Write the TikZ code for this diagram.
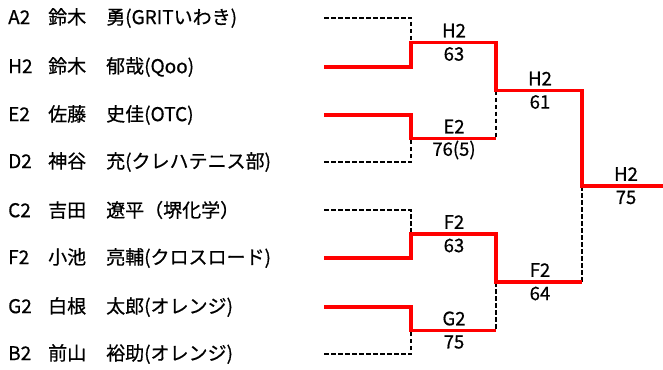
\documentclass[tikz,border=0pt]{standalone}
\usepackage{fontspec}
\setmainfont{Noto Sans CJK JP}
\newfontfamily\jpfont[FakeBold=0.6]{Noto Sans CJK JP}
\begin{document}
\begin{tikzpicture}[x=1pt,y=-1pt,
  win/.style={draw=red,line width=3.6pt,line join=miter},
  lose/.style={draw=black,line width=2.7pt,dash pattern=on 4.5pt off 2.5pt},
  player/.style={anchor=west,inner sep=0pt,font=\jpfont\fontsize{19}{22}\selectfont},
  lbl/.style={inner sep=0pt,font=\jpfont\fontsize{18.5}{20}\selectfont}]
\useasboundingbox (0,0) rectangle (663,369);
% players
\newcommand{\pl}[3]{\makebox[40pt][l]{#1}\makebox[58pt][l]{#2}#3}
\node[player] (pA) at (8,18)  {\pl{A2}{鈴木}{勇(GRITいわき)}};
\node[player] (pH) at (8,67)  {\pl{H2}{鈴木}{郁哉(Qoo)}};
\node[player] (pE) at (8,115) {\pl{E2}{佐藤}{史佳(OTC)}};
\node[player] (pD) at (8,162) {\pl{D2}{神谷}{充(クレハテニス部)}};
\node[player] (pC) at (8,210) {\pl{C2}{吉田}{遼平（堺化学）}};
\node[player] (pF) at (8,258) {\pl{F2}{小池}{亮輔(クロスロード)}};
\node[player] (pG) at (8,307) {\pl{G2}{白根}{太郎(オレンジ)}};
\node[player] (pB) at (8,354) {\pl{B2}{前山}{裕助(オレンジ)}};
% leaf coordinates
\coordinate (lA) at (324,18);
\coordinate (lH) at (324,67);
\coordinate (lE) at (324,115);
\coordinate (lD) at (324,162);
\coordinate (lC) at (324,210);
\coordinate (lF) at (324,258);
\coordinate (lG) at (324,307);
\coordinate (lB) at (324,354);
% round 1 corners
\coordinate (cA) at (411,18);
\coordinate (cH) at (411,67);
\coordinate (cE) at (411,115);
\coordinate (cD) at (411,162);
\coordinate (cC) at (411,210);
\coordinate (cF) at (411,258);
\coordinate (cG) at (411,307);
\coordinate (cB) at (411,354);
\coordinate (m1) at (411,42.5);
\coordinate (m2) at (411,138.5);
\coordinate (m3) at (411,234);
\coordinate (m4) at (411,330.5);
\coordinate (n1) at (496,42.5);
\coordinate (n2) at (496,138.5);
\coordinate (n3) at (496,234);
\coordinate (n4) at (496,330.5);
\coordinate (q1) at (496,90.5);
\coordinate (q2) at (496,282);
\coordinate (s1) at (582,90.5);
\coordinate (s2) at (582,282);
\coordinate (f) at (582,186);
\coordinate (fe) at (663,186);
% losers (dashed)
\draw[lose] (lA) -- (cA) -- (m1);
\draw[lose] (lD) -- (cD) -- (m2);
\draw[lose] (lC) -- (cC) -- (m3);
\draw[lose] (lB) -- (cB) -- (m4);
\draw[lose] (q1) -- (n2);
\draw[lose] (q2) -- (n4);
\draw[lose] (f) -- (s2);
% winners (red)
\draw[win] (lH) -- (cH) -- (m1) -- (n1) -- (q1) -- (s1) -- (f) -- (fe);
\draw[win] (lE) -- (cE) -- (m2) -- (n2);
\draw[win] (lF) -- (cF) -- (m3) -- (n3) -- (q2) -- (s2);
\draw[win] (lG) -- (cG) -- (m4) -- (n4);
% labels
\node[lbl] (w1) at (454,30.5) {H2};
\node[lbl] (s1l) at (454,54) {63};
\node[lbl] (w2) at (454,126.5) {E2};
\node[lbl] (s2l) at (454,150) {76(5)};
\node[lbl] (w3) at (454,222) {F2};
\node[lbl] (s3l) at (454,245.5) {63};
\node[lbl] (w4) at (454,318.5) {G2};
\node[lbl] (s4l) at (454,342) {75};
\node[lbl] (w5) at (540,78.5) {H2};
\node[lbl] (s5l) at (540,102) {61};
\node[lbl] (w6) at (540,270) {F2};
\node[lbl] (s6l) at (540,293.5) {64};
\node[lbl] (w7) at (626,174) {H2};
\node[lbl] (s7l) at (626,197.5) {75};
\end{tikzpicture}
\end{document}
